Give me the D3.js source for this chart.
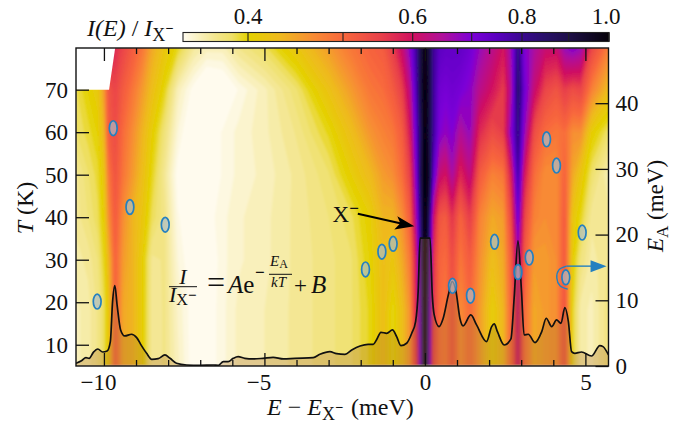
<!DOCTYPE html>
<html lang="en">
<head>
<meta charset="utf-8">
<title>Activation energy map</title>
<script src="https://d3js.org/d3.v7.min.js"></script>
<style>
	html, body { margin: 0; padding: 0; background: #fff; }
	text { font-family: "Liberation Serif", serif; fill: #111; }
	.it { font-style: italic; }
</style>
</head>
<body>
<svg id="chart" width="691" height="430"></svg>
<script>
// energies of the map columns (meV from the X- line)
const energies = [-10.9,-10.5,-10.2,-10,-9.85,-9.65,-9.4,-9.1,-8.8,-8.5,-8.1,-7.7,-7.2,-6.8,-6.3,-5.8,-5,-4,-3,-2.3,-1.7,-1.3,-1,-0.7,-0.45,-0.25,-0.12,0,0.12,0.25,0.45,0.65,0.85,1.1,1.4,1.7,2.1,2.45,2.7,2.9,3.1,3.4,3.75,4.1,4.35,4.6,4.85,5.2,5.75];
// temperatures of the map rows (K)
const temps = [5,18,30,40,50,60,70,80];
// I(E)/I_X- for each temperature row
const rowT5  = [.36,.365,.375,.39,.42,.51,.45,.44,.41,.37,.375,.358,.338,.338,.348,.358,.362,.37,.378,.385,.40,.43,.40,.43,.47,.58,.75,1,.75,.56,.5,.49,.53,.47,.5,.46,.41,.44,.51,.62,.5,.45,.46,.47,.53,.40,.365,.36,.38];
const rowT18 = [.36,.365,.375,.39,.42,.51,.45,.44,.41,.37,.375,.355,.338,.338,.348,.358,.362,.37,.378,.385,.40,.43,.40,.43,.47,.60,.78,1,.78,.57,.5,.49,.53,.47,.5,.46,.41,.44,.51,.63,.5,.45,.46,.47,.53,.40,.365,.36,.38];
const rowT30 = [.365,.37,.38,.40,.44,.51,.46,.44,.41,.372,.375,.35,.335,.335,.348,.355,.36,.37,.378,.385,.405,.43,.42,.45,.49,.62,.82,1,.84,.58,.51,.50,.54,.49,.52,.47,.43,.45,.52,.66,.52,.46,.46,.47,.52,.41,.38,.365,.375];
const rowT40 = [.37,.38,.39,.41,.47,.52,.47,.44,.42,.39,.375,.345,.335,.34,.348,.355,.36,.37,.38,.39,.41,.44,.44,.47,.52,.68,.85,1,.88,.62,.53,.52,.57,.51,.56,.48,.45,.46,.55,.72,.55,.48,.47,.47,.52,.42,.40,.37,.37];
const rowT50 = [.37,.385,.395,.42,.49,.53,.49,.46,.43,.40,.37,.34,.335,.335,.345,.352,.358,.37,.385,.41,.435,.46,.47,.50,.56,.72,.90,1,.95,.75,.62,.60,.66,.58,.63,.52,.48,.49,.60,.78,.60,.50,.47,.47,.51,.45,.42,.385,.36];
const rowT60 = [.385,.395,.405,.44,.52,.54,.50,.47,.44,.41,.38,.35,.33,.335,.345,.352,.36,.375,.40,.43,.465,.48,.49,.52,.60,.75,.88,1,.92,.80,.70,.68,.70,.65,.68,.58,.54,.56,.70,.82,.68,.54,.50,.49,.50,.47,.47,.41,.385];
const rowT70 = [.39,.405,.415,.46,.53,.55,.52,.49,.46,.43,.40,.36,.34,.325,.33,.345,.36,.385,.425,.46,.49,.50,.52,.56,.64,.78,.92,1,.93,.80,.72,.71,.72,.71,.69,.64,.60,.56,.66,.85,.72,.62,.55,.53,.56,.54,.55,.48,.43];
const rowT80 = [.40,.42,.45,.55,.60,.58,.55,.52,.49,.45,.42,.40,.37,.36,.36,.375,.39,.42,.46,.49,.51,.52,.56,.62,.70,.80,.92,.98,.92,.80,.75,.74,.74,.74,.72,.68,.64,.60,.68,.82,.70,.66,.62,.62,.68,.70,.68,.55,.48];
const rows = [rowT5,rowT18,rowT30,rowT40,rowT50,rowT60,rowT70,rowT80];

// X- spectrum at low T, drawn against the right axis
const specE = [-10.87,-10.70,-10.56,-10.46,-10.33,-10.19,-10.04,-9.90,-9.80,-9.73,-9.66,-9.59,-9.48,-9.35,-9.14,-8.98,-8.83,-8.67,-8.51,-8.31,-8.10,-7.94,-7.74,-7.42,-7.01,-6.59,-6.44,-6.28,-6.13,-5.97,-5.82,-5.61,-5.35,-5.04,-4.73,-4.41,-4.05,-3.48,-3.27,-2.96,-2.75,-2.49,-2.28,-2.02,-1.77,-1.61,-1.51,-1.37,-1.19,-1.01,-0.88,-0.75,-0.57,-0.41,-0.29,-0.21,-0.15,0.16,0.23,0.29,0.44,0.57,0.73,0.85,0.97,1.09,1.19,1.43,1.61,1.92,2.08,2.16,2.26,2.47,2.68,2.78,2.90,3.01,3.09,3.22,3.43,3.64,3.78,3.95,4.10,4.24,4.36,4.47,4.57,4.67,4.88,5.19,5.45,5.55,5.72];
const specV = [0.41,0.81,1.27,1.17,2.08,2.59,2.13,2.29,3.71,9.81,12.25,9.30,5.49,4.57,4.83,4.32,3.10,1.93,1.02,1.12,1.68,1.17,0.41,0.15,0.10,0.15,0.10,0.66,0.66,1.17,1.42,1.17,1.07,1.17,1.32,1.07,1.17,1.27,1.78,2.18,1.88,1.78,2.44,3.05,3.30,3.30,3.96,5.13,4.98,5.49,4.47,3.10,3.46,4.98,6.76,11.33,19.46,19.46,10.82,7.77,6.0,7.27,10.82,12.86,11.33,7.27,6.10,7.77,6.25,3.71,6.0,6.40,5.23,3.2,4.12,10.31,19.05,11.33,4.73,4.83,3.56,5.23,7.27,6.0,7.01,6.50,8.89,6.76,2.18,1.93,2.13,1.52,3.10,2.95,1.68];

// fitted activation energies
const fitE  = [-10.21,-9.71,-9.19,-8.09,-1.85,-1.34,-0.99,0.86,1.42,2.17,2.90,3.25,3.79,4.10,4.39,4.90];
const fitEA = [9.8,36.2,24.2,21.5,14.7,17.4,18.6,12.2,10.7,18.9,14.3,16.5,34.5,30.5,13.5,20.3];

// ticks
const eMajor = [-10,-5,0,5];
const eMinor = [-9,-8,-7,-6,-4,-3,-2,-1,1,2,3,4];
const tTicks = [10,20,30,40,50,60,70];
const eaTicks = [0,10,20,30,40];
const cbTicks = [0.5,0.7,0.9];
const cbLabels = [0.4,0.6,0.8,1.0];

// colour scale stops
const cmapV = [.34,.37,.385,.40,.435,.47,.50,.555,.60,.65,.70,.75,.80,.85,.90,1];
const cmapC = ["#fffbee","#f3e68e","#efe068","#e4d200","#efb820","#f88a35","#f8683c","#e8404a","#d01060","#b0109a","#7c00d8","#5a00c0","#3a0890","#281068","#1e0f48","#050208"];

const W = 691, H = 430;
const left = 76, right = 608.5, top_ = 48, bottom = 366;

const svg = d3.select("#chart");
const x = d3.scaleLinear().domain([-10.87,5.72]).range([left,right]);
const yT = d3.scaleLinear().domain([5,79.8]).range([bottom,top_]);
const yEA = d3.scaleLinear().domain([0,48.4]).range([bottom,top_]);
const color = d3.scaleLinear().domain(cmapV).range(cmapC).clamp(true);
const cbX = d3.scaleLinear().domain([.34,.4,.5,.6,.7,.8,.9,1]).range([183,248,343,412.7,471.7,522,568.7,609]);

const defs = svg.append("defs");
defs.append("clipPath").attr("id","plot").append("rect")
	.attr("x",left).attr("y",top_).attr("width",right-left).attr("height",bottom-top_);
defs.append("filter").attr("id","soft").attr("x","-2%").attr("y","-2%").attr("width","104%").attr("height","104%")
	.append("feGaussianBlur").attr("stdDeviation","0.8");

// ---- map: filled contours on the (uneven) E,T grid
const nx = energies.length, ny = temps.length;
const gridE = d3.scaleLinear().domain(d3.range(nx)).range(energies).clamp(true);
const gridT = d3.scaleLinear().domain(d3.range(ny)).range(temps).clamp(true);
const levels = d3.range(.32,1.001,.006);
const contours = d3.contours().size([nx,ny]).smooth(true).thresholds(levels)(rows.flat());
const toPx = d3.geoTransform({
	point(a,b) { this.stream.point(x(gridE(a-.5)), yT(gridT(b-.5))); }
});
const geo = d3.geoPath(toPx);

const plot = svg.append("g").attr("clip-path","url(#plot)");
const map = plot.append("g").attr("filter","url(#soft)");
map.append("rect").attr("x",left-4).attr("y",top_-4).attr("width",right-left+8).attr("height",bottom-top_+8).attr("fill",color(.32));
map.selectAll("path").data(contours).join("path")
	.attr("d",geo).attr("fill",d => color(d.value));

// no data corner
const noData = [[-10.87,70],[-9.84,70],[-9.65,79.8],[-10.87,79.8]];
plot.append("path")
	.attr("d",d3.line().x(d => x(d[0])).y(d => yT(d[1]))(noData)+"Z")
	.attr("fill","#fff");

// ---- spectrum
const spec = specE.map((e,i) => [e,specV[i]]);
plot.append("path").datum(spec)
	.attr("d",d3.area().x(d => x(d[0])).y0(yEA(0)).y1(d => yEA(d[1])).curve(d3.curveMonotoneX))
	.attr("fill","#a8702a").attr("opacity",.3);
plot.append("path").datum(spec)
	.attr("d",d3.line().x(d => x(d[0])).y(d => yEA(d[1])).curve(d3.curveMonotoneX))
	.attr("fill","none").attr("stroke","#111").attr("stroke-width",1.7);

// ---- fitted points
const blue = "#2480c0";
plot.selectAll("ellipse").data(fitE).join("ellipse")
	.attr("cx",d => x(d)).attr("cy",(d,i) => yEA(fitEA[i]))
	.attr("rx",3.9).attr("ry",7.4)
	.attr("fill","#a8bccc").attr("fill-opacity",.68)
	.attr("stroke",blue).attr("stroke-width",1.7);

// ---- axes, ticks point inward
function tickText(sel) { sel.attr("font-size",23).attr("font-family","Liberation Serif"); }
function cleanAxis(g) {
	g.select(".domain").remove();
	g.selectAll("line").attr("stroke","#111").attr("stroke-width",1.3);
}
svg.append("g").attr("transform",`translate(0,${bottom})`)
	.call(d3.axisBottom(x).tickValues(eMajor).tickSize(-13).tickPadding(8).tickFormat(d => d3.format("d")(d).replace("-","−")))
	.call(tickText).call(cleanAxis)
	.selectAll("text").attr("fill","#111").attr("dx",d => d < 0 ? -6 : 0);
svg.append("g").attr("transform",`translate(0,${bottom})`)
	.call(d3.axisBottom(x).tickValues(eMinor).tickSize(-6).tickFormat("")).call(cleanAxis);
svg.append("g").attr("transform",`translate(0,${top_})`)
	.call(d3.axisTop(x).tickValues(eMajor).tickSize(-13).tickFormat("")).call(cleanAxis);
svg.append("g").attr("transform",`translate(0,${top_})`)
	.call(d3.axisTop(x).tickValues(eMinor).tickSize(-6).tickFormat("")).call(cleanAxis);
svg.append("g").attr("transform",`translate(${left},0)`)
	.call(d3.axisLeft(yT).tickValues(tTicks).tickSize(-13).tickPadding(8))
	.call(tickText).call(cleanAxis)
	.selectAll("text").attr("fill","#111");
svg.append("g").attr("transform",`translate(${right},0)`)
	.call(d3.axisRight(yEA).tickValues(eaTicks).tickSize(-13).tickPadding(7))
	.call(tickText).call(cleanAxis)
	.selectAll("text").attr("fill","#111");
svg.append("rect").attr("x",left).attr("y",top_).attr("width",right-left).attr("height",bottom-top_)
	.attr("fill","none").attr("stroke","#111").attr("stroke-width",1.4);

// axis titles
function subMinus(t, subSize, sub) {
	// subscript X carrying a raised minus
	t.append("tspan").attr("dy",sub).attr("font-size",subSize).text("X");
	t.append("tspan").attr("dy",-subSize*.42).attr("font-size",subSize*.8).attr("font-weight","bold").text("−");
}
const xl = svg.append("text").attr("x",267).attr("y",415).attr("font-size",24);
xl.append("tspan").attr("class","it").text("E");
xl.append("tspan").text(" − ");
xl.append("tspan").attr("class","it").text("E");
subMinus(xl,18,5);
xl.append("tspan").attr("dy",2.5).attr("dx",2).text(" (meV)");

const yl = svg.append("text").attr("transform","translate(33,208) rotate(-90)").attr("text-anchor","middle").attr("font-size",24);
yl.append("tspan").attr("class","it").text("T");
yl.append("tspan").text(" (K)");

const rl = svg.append("text").attr("transform","translate(663,206) rotate(-90)").attr("text-anchor","middle").attr("font-size",23);
rl.append("tspan").attr("class","it").text("E");
rl.append("tspan").attr("dy",5).attr("font-size",17).text("A");
rl.append("tspan").attr("dy",-5).text(" (meV)");

// ---- colour bar
const cbY = 32.5, cbH = 9;
svg.append("g").selectAll("rect").data(d3.range(183,609)).join("rect")
	.attr("x",d => d).attr("y",cbY).attr("width",1.2).attr("height",cbH)
	.attr("fill",d => color(cbX.invert(d+.5)));
svg.append("rect").attr("x",183).attr("y",cbY).attr("width",426).attr("height",cbH)
	.attr("fill","none").attr("stroke","#222").attr("stroke-width",1.1);
svg.append("g").selectAll("line").data(cbTicks.concat(cbLabels)).join("line")
	.attr("x1",d => cbX(d)).attr("x2",d => cbX(d)).attr("y1",cbY).attr("y2",cbY+cbH)
	.attr("stroke","#222").attr("stroke-width",1.1);
svg.append("g").selectAll("text").data(cbLabels).join("text")
	.attr("x",d => cbX(d)-(d === 1 ? 3 : 0)).attr("y",24).attr("text-anchor","middle").attr("font-size",23)
	.text(d => d3.format(".1f")(d));

const cl = svg.append("text").attr("x",87).attr("y",36).attr("font-size",24);
cl.append("tspan").attr("class","it").text("I(E)");
cl.append("tspan").text(" / ");
cl.append("tspan").attr("class","it").text("I");
subMinus(cl,18,5);

// ---- X- annotation
const lineT = d3.line().x(d => x(d[0])).y(d => yT(d[1]));
const xArrow = [[-2.09,40.8],[-0.6,38.3]];
svg.append("path").attr("d",lineT(xArrow)).attr("stroke","#000").attr("stroke-width",2).attr("fill","none");
const tip = [x(-0.33),yT(37.9)];
svg.append("path").attr("transform",`translate(${tip})`)
	.attr("d","M0,0L-17,-10L-14,-3L-20,3.3Z").attr("fill","#000");
const xt = svg.append("text").attr("x",332.5).attr("y",222).attr("font-size",23);
xt.append("tspan").text("X");
xt.append("tspan").attr("dy",-8).attr("font-size",17).attr("font-weight","bold").text("−");

// ---- blue arrow from the looped point to the right axis
const curl = [[4.45,11.7],[4.21,12.2],[4.11,13.4],[4.17,14.6],[4.41,15.2]];
const lineEA = d3.line().x(d => x(d[0])).y(d => yEA(d[1]));
svg.append("path").attr("d",lineEA.curve(d3.curveCatmullRom)(curl))
	.attr("fill","none").attr("stroke",blue).attr("stroke-width",1.4);
svg.append("path").attr("d",lineEA.curve(d3.curveLinear)([[4.41,15.2],[5.2,15.2]]))
	.attr("fill","none").attr("stroke",blue).attr("stroke-width",1.4);
svg.append("path").attr("transform",`translate(${x(5.66)},${yEA(15.2)})`)
	.attr("d","M0,0L-16,-6L-16,6Z").attr("fill",blue);

// ---- formula
const f = svg.append("g");
f.append("text").attr("class","it").attr("x",183).attr("y",284).attr("text-anchor","middle").attr("font-size",22).text("I");
f.append("line").attr("x1",169).attr("x2",197).attr("y1",286.7).attr("y2",286.7).attr("stroke","#111").attr("stroke-width",1);
const den = f.append("text").attr("x",169).attr("y",302).attr("font-size",22);
den.append("tspan").attr("class","it").text("I");
den.append("tspan").attr("dy",3).attr("font-size",16).text("X");
den.append("tspan").attr("dy",-5).attr("font-size",15).attr("font-weight","bold").text("−");
f.append("text").attr("x",207).attr("y",293).attr("font-size",32).text("=");
const ae = f.append("text").attr("x",228).attr("y",293).attr("font-size",25);
ae.append("tspan").attr("class","it").text("A");
ae.append("tspan").text("e");
f.append("text").attr("x",255).attr("y",278).attr("font-size",17).attr("font-weight","bold").text("−");
const num = f.append("text").attr("x",270).attr("y",266).attr("font-size",15);
num.append("tspan").attr("class","it").text("E");
num.append("tspan").attr("dy",2).attr("font-size",12).text("A");
f.append("line").attr("x1",269).attr("x2",292).attr("y1",274.3).attr("y2",274.3).attr("stroke","#111").attr("stroke-width",1);
f.append("text").attr("class","it").attr("x",271).attr("y",287).attr("font-size",15).text("kT");
f.append("text").attr("x",294).attr("y",293).attr("font-size",23).text("+");
f.append("text").attr("class","it").attr("x",311).attr("y",293).attr("font-size",25).text("B");
</script>
</body>
</html>
